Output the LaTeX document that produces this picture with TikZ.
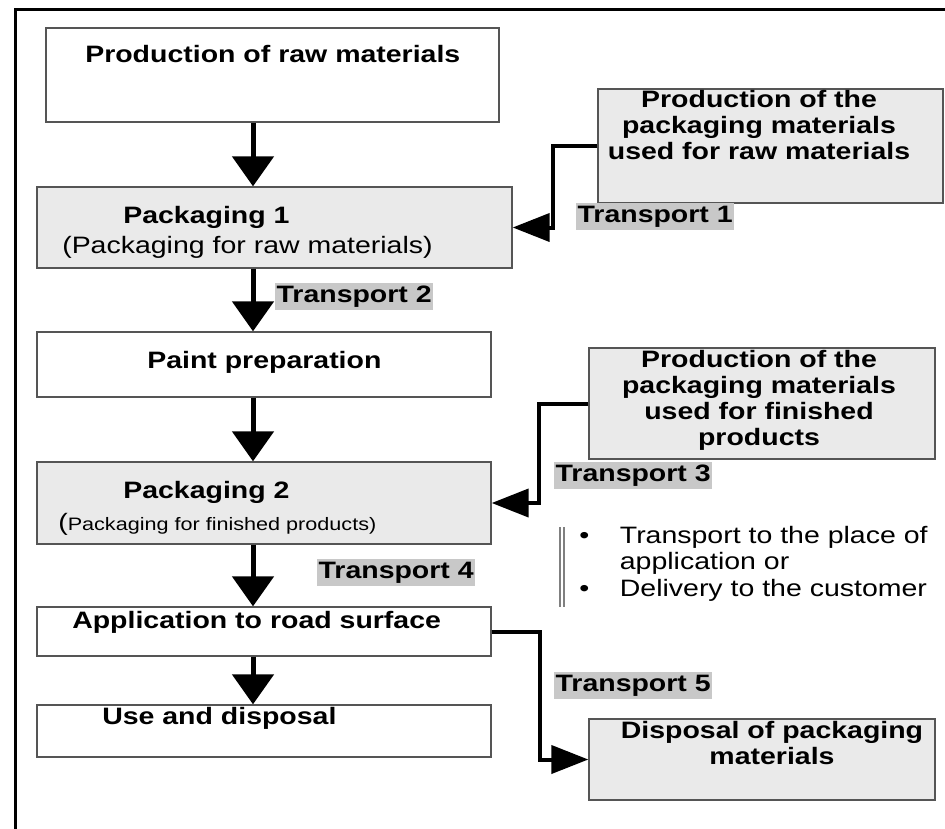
\documentclass[tikz,border=0pt]{standalone}
\usepackage{fontspec}
\setmainfont{Liberation Sans}[FakeStretch=1.2]
\usetikzlibrary{arrows.meta,fit}
\definecolor{boxgray}{HTML}{EAEAEA}
\definecolor{labgray}{HTML}{C8C8C8}
\definecolor{edgegray}{HTML}{555555}
\newcommand\mybig{\fontsize{17.8}{19.5}\selectfont}
\newcommand\mysmall{\fontsize{13.5}{15}\selectfont}
\begin{document}
\begin{tikzpicture}[x=0.75pt,y=-0.75pt,
  box/.style={draw=edgegray, line width=1pt, inner sep=0pt},
  whitebox/.style={box, fill=white},
  graybox/.style={box, fill=boxgray},
  btxt/.style={inner sep=0pt, font=\mybig\bfseries, anchor=base west},
  rtxt/.style={inner sep=0pt, font=\mybig, anchor=base west},
  ctxt/.style={inner sep=0pt, font=\mybig\bfseries, align=center, anchor=north},
  tlab/.style={fill=labgray, font=\mybig\bfseries, inner xsep=1pt, inner ysep=1.5pt,
    text height=13pt, text depth=3.7pt, anchor=north west},
  downarrow/.style={line width=3.75pt, -{Triangle[width=30.75pt,length=22.5pt]}},
  sidearrow/.style={line width=3pt, -{Triangle[width=21pt,length=27.75pt]}},
  frameline/.style={line width=2.25pt},
  dbar/.style={draw=gray, line width=1.1pt}
]
\useasboundingbox (0,0) rectangle (945,828);
\draw[frameline] (15,830) -- (15,9) -- (947,9);

% boxes
\node[whitebox, fit={(46,28) (499,122)}] (A) {};
\node[graybox,  fit={(37,187) (512,268)}] (B) {};
\node[graybox,  fit={(598,89) (943,203)}] (C) {};
\node[whitebox, fit={(37,332) (491,397)}] (D) {};
\node[graybox,  fit={(37,462) (491,544)}] (E) {};
\node[graybox,  fit={(589,348) (935,459)}] (F) {};
\node[whitebox, fit={(37,607) (491,656)}] (G) {};
\node[whitebox, fit={(37,705) (491,757)}] (I) {};
\node[graybox,  fit={(589,719) (935,800)}] (H) {};

% texts
\node[btxt] (tA) at (85,62) {Production of raw materials};
\node[btxt] (tB1) at (123,223) {Packaging 1};
\node[rtxt] (tB2) at (62,253) {(Packaging for raw materials)};
\node[ctxt] (tC) at (759,90) {Production of the\\packaging materials\\used for raw materials};
\node[btxt] (tD) at (147,368) {Paint preparation};
\node[btxt] (tE1) at (123,498) {Packaging 2};
\node[rtxt] (tE2) at (58,530) {(\mysmall Packaging for finished products)};
\node[ctxt] (tF) at (759,350) {Production of the\\packaging materials\\used for finished\\products};
\node[btxt] (tG) at (72,628) {Application to road surface};
\node[btxt] (tI) at (102,724) {Use and disposal};
\node[ctxt] (tH) at (772,721) {Disposal of packaging\\materials};

% transport labels
\node[tlab] (T1) at (576,203) {Transport 1};
\node[tlab] (T2) at (275,283) {Transport 2};
\node[tlab] (T3) at (554,462) {Transport 3};
\node[tlab] (T4) at (317,559) {Transport 4};
\node[tlab] (T5) at (554,672) {Transport 5};

% bullet list
\draw[dbar] (560,527) -- (560,607);
\draw[dbar] (564,527) -- (564,607);
\node[inner sep=0pt, anchor=base west, font=\fontsize{17.8}{20}\selectfont] (L) at (579,543)
  {\begin{tabular}[t]{@{}l@{\hspace{23pt}}l@{}}
   \textbullet & Transport to the place of\\
               & application or\\
   \textbullet & Delivery to the customer
   \end{tabular}};

% main column arrows
\coordinate (col) at (253,0);
\draw[downarrow] (A.south -| col) -- (B.north -| col);
\draw[downarrow] (B.south -| col) -- (D.north -| col);
\draw[downarrow] (D.south -| col) -- (E.north -| col);
\draw[downarrow] (E.south -| col) -- (G.north -| col);
\draw[downarrow] (G.south -| col) -- (I.north -| col);

% side connectors
\draw[sidearrow] (C.west) -- ++(-44,0) |- (B.east);
\draw[sidearrow] (F.west) -- ++(-49,0) |- (E.east);
\draw[sidearrow] (G.east) -- ++(48,0) |- (H.west);
\end{tikzpicture}
\end{document}
